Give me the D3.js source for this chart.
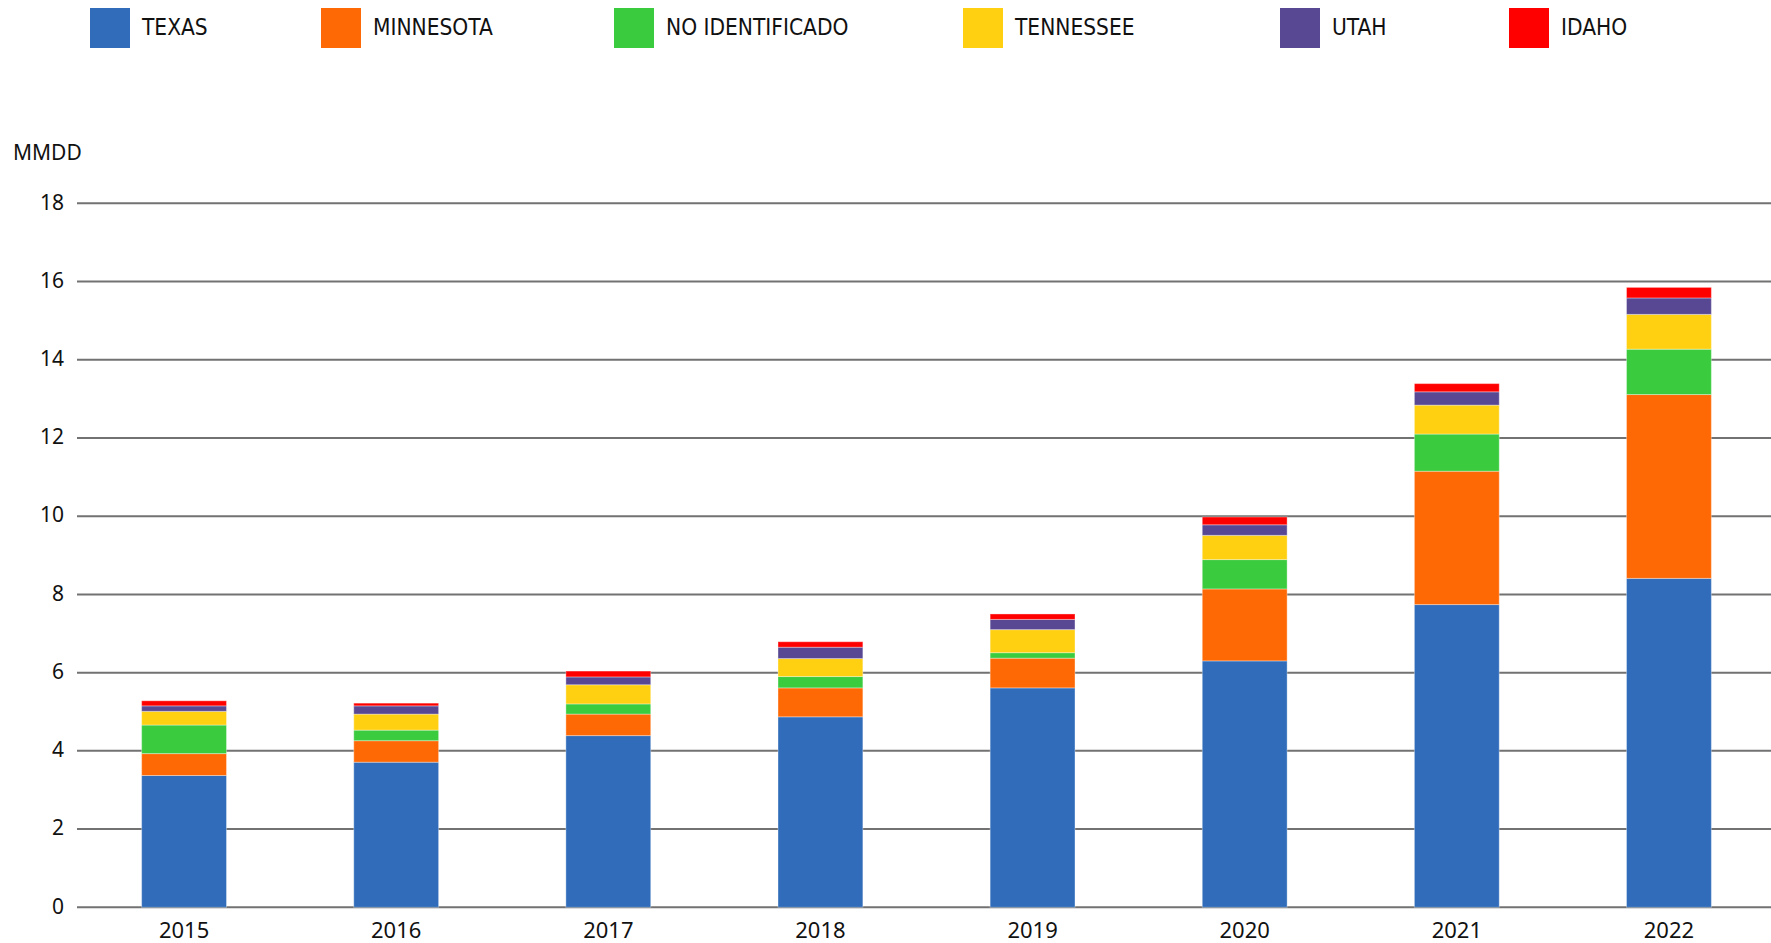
<!DOCTYPE html>
<html>
<head>
<meta charset="utf-8">
<script src="https://cdn.jsdelivr.net/npm/d3@7"></script>
<style>
  html, body { margin: 0; padding: 0; background: #fff; }
  svg { display: block; }
</style>
</head>
<body>
<svg id="chart" width="1771" height="943"></svg>
<script>
// data (billions MMDD)
const years = ["2015", "2016", "2017", "2018", "2019", "2020", "2021", "2022"];
const states = ["TEXAS", "MINNESOTA", "NO IDENTIFICADO", "TENNESSEE", "UTAH", "IDAHO"];
const colors = ["#306cba", "#ff6905", "#3acc3e", "#ffd012", "#584893", "#ff0000"];

const texas       = [3.37, 3.71, 4.39, 4.87, 5.61, 6.30, 7.74, 8.41];
const minnesota   = [0.56, 0.55, 0.55, 0.74, 0.76, 1.84, 3.41, 4.70];
const noIdent     = [0.73, 0.27, 0.26, 0.29, 0.14, 0.75, 0.95, 1.16];
const tennessee   = [0.35, 0.41, 0.49, 0.46, 0.59, 0.62, 0.74, 0.89];
const utah        = [0.14, 0.21, 0.20, 0.29, 0.26, 0.27, 0.34, 0.42];
const idaho       = [0.13, 0.07, 0.15, 0.14, 0.14, 0.20, 0.21, 0.27];
const yTicks = [0, 2, 4, 6, 8, 10, 12, 14, 16, 18];

const seriesValues = [texas, minnesota, noIdent, tennessee, utah, idaho];

// build table rows for d3.stack
const rows = years.map((yr, i) => {
  const r = { year: yr };
  states.forEach((s, j) => { r[s] = seriesValues[j][i]; });
  return r;
});

const svg = d3.select("#chart");
const gridLeft = 77;
const gridRight = 1771;

const x = d3.scaleBand()
  .domain(years)
  .range([78, 1775])
  .paddingInner(0.6)
  .paddingOuter(0.3);

const y = d3.scaleLinear()
  .domain([0, 18])
  .range([907.3, 203.3]);

const color = d3.scaleOrdinal().domain(states).range(colors);

// gridlines
svg.append("g")
  .selectAll("line")
  .data(yTicks)
  .join("line")
  .attr("x1", gridLeft)
  .attr("x2", gridRight)
  .attr("y1", d => y(d))
  .attr("y2", d => y(d))
  .attr("stroke", "#727272")
  .attr("stroke-width", 2);

// y tick labels
svg.append("g")
  .selectAll("text")
  .data(yTicks)
  .join("text")
  .attr("x", 64)
  .attr("y", d => y(d))
  .attr("dy", "0.3em")
  .attr("text-anchor", "end")
  .style("font-family", "'Noto Sans', sans-serif")
  .style("font-size", "21px")
  .attr("fill", "#111")
  .text(d => d);

svg.append("text")
  .attr("x", 13)
  .attr("y", 160)
  .style("font-family", "'Noto Sans', sans-serif")
  .style("font-size", "21px")
  .attr("fill", "#111")
  .text("MMDD");

// stacked bars
const stacked = d3.stack().keys(states)(rows);

svg.append("g")
  .selectAll("g")
  .data(stacked)
  .join("g")
  .attr("fill", d => color(d.key))
  .selectAll("rect")
  .data(d => d)
  .join("rect")
  .attr("x", d => x(d.data.year))
  .attr("width", x.bandwidth())
  .attr("y", d => y(d[1]))
  .attr("height", d => y(d[0]) - y(d[1]))
  .attr("stroke", "#ffffff")
  .attr("stroke-opacity", 0.35)
  .attr("stroke-width", 1);

// x labels
svg.append("g")
  .selectAll("text")
  .data(years)
  .join("text")
  .attr("x", d => x(d) + x.bandwidth() / 2)
  .attr("y", 930)
  .attr("dy", "0.35em")
  .attr("text-anchor", "middle")
  .style("font-family", "'Noto Sans', sans-serif")
  .style("font-size", "22px")
  .attr("fill", "#111")
  .text(d => d);

// legend
const legendX = [90, 321, 614, 963, 1280, 1509];
const legend = svg.append("g")
  .selectAll("g")
  .data(states)
  .join("g")
  .attr("transform", (d, i) => `translate(${legendX[i]}, 8)`);

legend.append("rect")
  .attr("width", 40)
  .attr("height", 40)
  .attr("fill", d => color(d));

legend.append("text")
  .attr("x", 52)
  .attr("y", 19)
  .attr("dy", "0.35em")
  .style("font-family", "'DejaVu Sans Condensed', 'DejaVu Sans', sans-serif")
  .style("font-size", "22.5px")
  .attr("fill", "#111")
  .text(d => d);
</script>
</body>
</html>
